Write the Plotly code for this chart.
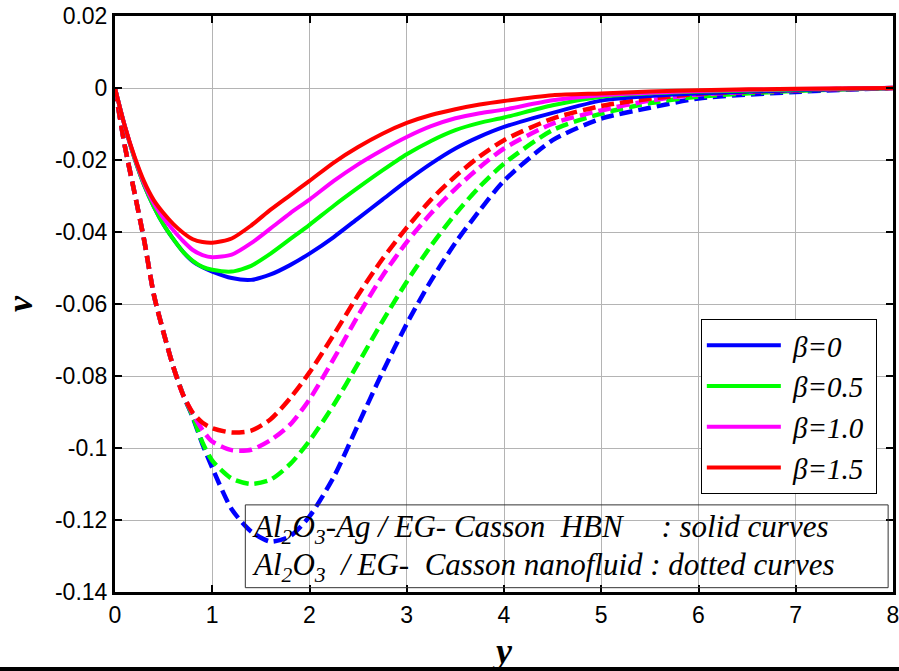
import plotly.graph_objects as go

# x positions (eta)
x_vals = [0, 0.1, 0.2, 0.3, 0.4, 0.5, 0.6, 0.7, 0.8, 0.9, 1.0, 1.2, 1.4, 1.6, 1.8, 2.0,
          2.25, 2.5, 2.75, 3.0, 3.25, 3.5, 3.75, 4.0, 4.5, 5.0, 5.5, 6.0, 7.0, 8.0]

# Solid curves: Al2O3-Ag / EG Casson HBN
hbn_beta0 = [0, -0.0105, -0.0195, -0.027, -0.033, -0.038, -0.042, -0.0455, -0.0482, -0.0498,
             -0.051, -0.0528, -0.0533, -0.0518, -0.0492, -0.046, -0.0414, -0.0362, -0.031,
             -0.0258, -0.021, -0.0168, -0.0135, -0.0108, -0.0069, -0.0035, -0.0022, -0.0015,
             -0.0006, 0]
hbn_beta05 = [0, -0.0105, -0.0195, -0.027, -0.033, -0.038, -0.042, -0.0455, -0.048, -0.0497,
              -0.0505, -0.051, -0.0494, -0.046, -0.042, -0.038, -0.0327, -0.0277, -0.0229,
              -0.0184, -0.0147, -0.0117, -0.0097, -0.0082, -0.0048, -0.0024, -0.0015, -0.001,
              -0.0004, 0]
hbn_beta10 = [0, -0.0105, -0.0192, -0.0265, -0.0321, -0.0362, -0.0395, -0.0425, -0.045, -0.0464,
              -0.047, -0.0463, -0.0431, -0.039, -0.0348, -0.031, -0.0258, -0.0212, -0.0172,
              -0.0136, -0.0106, -0.0084, -0.007, -0.006, -0.0034, -0.002, -0.0013, -0.0008,
              -0.0003, 0]
hbn_beta15 = [0, -0.0105, -0.019, -0.026, -0.0312, -0.0348, -0.0378, -0.0402, -0.042, -0.0428,
              -0.043, -0.0418, -0.0382, -0.0338, -0.0298, -0.0258, -0.0207, -0.0164, -0.0127,
              -0.0097, -0.0075, -0.0059, -0.0046, -0.0036, -0.002, -0.0015, -0.001, -0.0006,
              -0.0002, 0]

# Dashed curves: Al2O3 / EG Casson nanofluid
nf_beta0 = [0, -0.016, -0.029, -0.0423, -0.0575, -0.068, -0.0775, -0.0852, -0.0915, -0.099,
            -0.1055, -0.117, -0.1232, -0.126, -0.1245, -0.119, -0.108, -0.0935, -0.079,
            -0.0655, -0.0535, -0.043, -0.034, -0.0258, -0.0145, -0.0085, -0.0055, -0.0029,
            -0.0011, 0]
nf_beta05 = [0, -0.016, -0.029, -0.0423, -0.0575, -0.068, -0.0775, -0.0852, -0.0912, -0.0985,
             -0.1035, -0.1085, -0.11, -0.1088, -0.1045, -0.098, -0.088, -0.0765, -0.0648,
             -0.0538, -0.0438, -0.035, -0.0274, -0.021, -0.0117, -0.0071, -0.0042, -0.0024,
             -0.0008, 0]
nf_beta10 = [0, -0.016, -0.029, -0.0423, -0.0575, -0.068, -0.0775, -0.0852, -0.0905, -0.095,
             -0.0982, -0.1006, -0.1005, -0.0978, -0.0935, -0.0865, -0.0752, -0.0632, -0.0522,
             -0.0428, -0.0348, -0.028, -0.022, -0.0168, -0.0099, -0.0062, -0.0035, -0.0018,
             -0.0006, 0]
nf_beta15 = [0, -0.016, -0.029, -0.0423, -0.0575, -0.068, -0.0775, -0.0852, -0.0902, -0.093,
             -0.0945, -0.0957, -0.0952, -0.092, -0.0862, -0.079, -0.0685, -0.0575, -0.0475,
             -0.0388, -0.031, -0.0245, -0.019, -0.0145, -0.0085, -0.005, -0.003, -0.0016,
             -0.0006, 0]

legend_names = ["β=0", "β=0.5", "β=1.0", "β=1.5"]
colors = ["#0000ff", "#00ff00", "#ff00ff", "#ff0000"]

x_ticks = [0, 1, 2, 3, 4, 5, 6, 7, 8]
x_ticktext = ["0", "1", "2", "3", "4", "5", "6", "7", "8"]
y_ticks = [0.02, 0, -0.02, -0.04, -0.06, -0.08, -0.1, -0.12, -0.14]
y_ticktext = ["0.02", "0", "-0.02", "-0.04", "-0.06", "-0.08", "-0.1", "-0.12", "-0.14"]

note_line1 = ("Al<sub>2</sub>O<sub>3</sub>-Ag / EG- Casson\u00a0\u00a0HBN"
              "\u00a0\u00a0\u00a0\u00a0\u00a0: solid curves")
note_line2 = ("Al<sub>2</sub>O<sub>3</sub>\u00a0\u00a0/ EG-\u00a0\u00a0Casson nanofluid"
              " : dotted curves")

serif = "Liberation Serif, Times New Roman, serif"
sans = "Liberation Sans, Arial, sans-serif"

fig = go.Figure()

solid = [hbn_beta0, hbn_beta05, hbn_beta10, hbn_beta15]
dashed = [nf_beta0, nf_beta05, nf_beta10, nf_beta15]

for ys, c, n in zip(dashed, colors, legend_names):
    fig.add_trace(go.Scatter(x=x_vals, y=ys, mode="lines", name=n + " (nanofluid)",
                             line=dict(color=c, width=4.5, dash="13px,6px", shape="spline",
                                       smoothing=0.7),
                             showlegend=False))
for ys, c, n in zip(solid, colors, legend_names):
    fig.add_trace(go.Scatter(x=x_vals, y=ys, mode="lines", name="\u00a0" + n + "\u00a0",
                             line=dict(color=c, width=4, shape="spline", smoothing=0.7)))

# note box
fig.add_shape(type="rect", xref="x", yref="y", x0=1.34, x1=7.95, y0=-0.1388, y1=-0.1158,
              line=dict(color="#333333", width=1), fillcolor="rgba(0,0,0,0)", layer="above")
fig.add_annotation(x=1.39, y=-0.1224, xref="x", yref="y", text=note_line1, showarrow=False,
                   xanchor="left", yanchor="middle",
                   font=dict(family=serif, size=31, color="black", style="italic"))
fig.add_annotation(x=1.39, y=-0.1330, xref="x", yref="y", text=note_line2, showarrow=False,
                   xanchor="left", yanchor="middle",
                   font=dict(family=serif, size=31, color="black", style="italic"))

# page artifact line at bottom
fig.add_shape(type="line", xref="paper", yref="paper", x0=-0.16, x1=1.02, y0=-0.1337,
              y1=-0.1337, line=dict(color="black", width=4))

axis_common = dict(showline=True, linecolor="black", linewidth=3, mirror="allticks",
                   ticks="inside", ticklen=7, tickwidth=2, tickcolor="black",
                   showgrid=True, gridcolor="#b4b4b4", gridwidth=1, zeroline=False,
                   automargin=False, ticklabeloverflow="allow",
                   tickfont=dict(family=sans, size=23, color="black"))

fig.update_layout(
    width=899, height=671,
    margin=dict(l=115, r=6, t=16, b=79),
    plot_bgcolor="white", paper_bgcolor="white",
    xaxis=dict(range=[0, 8], tickvals=x_ticks, ticktext=x_ticktext,
               title=dict(text="<b><i>y</i></b>", font=dict(family=serif, size=36, color="black"),
                          standoff=14),
               **axis_common),
    yaxis=dict(range=[-0.14, 0.02], tickvals=y_ticks, ticktext=y_ticktext,
               title=dict(text="<b><i>v</i></b>", font=dict(family=serif, size=36, color="black"),
                          standoff=32),
               **axis_common),
    legend=dict(x=0.753, y=0.474, xanchor="left", yanchor="top",
                bgcolor="white", bordercolor="black", borderwidth=1,
                font=dict(family=serif, size=29, color="black", style="italic"),
                itemwidth=74, tracegroupgap=0),
    showlegend=True,
)

# remove the default page margin so the figure sits at the window's top-left corner
fig.write_html("out.html", config={"displayModeBar": False},
               post_script="document.body.style.margin='0px';")
